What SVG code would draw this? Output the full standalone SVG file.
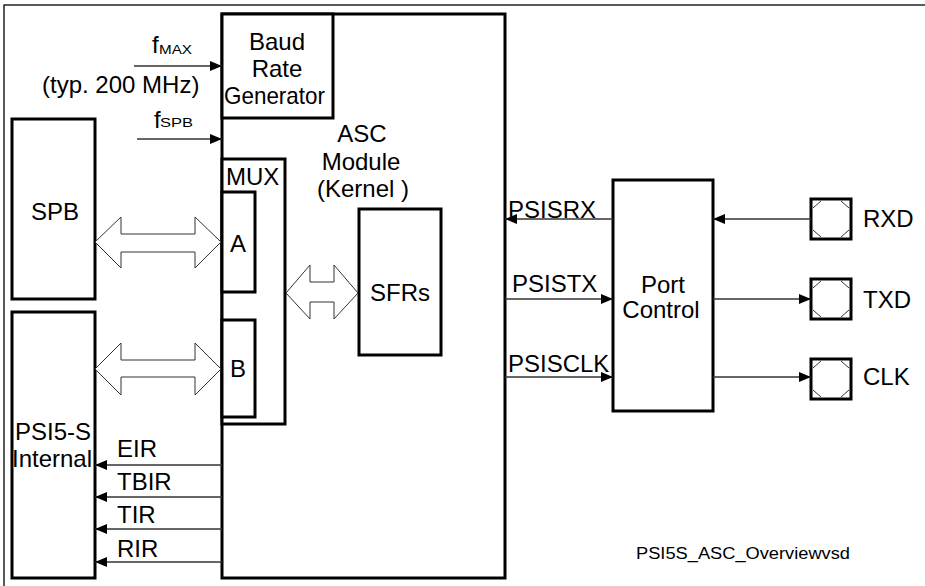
<svg xmlns="http://www.w3.org/2000/svg" width="925" height="586" viewBox="0 0 925 586">
<defs>
<style>
.box{fill:#fff;stroke:#000;stroke-width:3}
.pad{fill:#fff;stroke:#000;stroke-width:3}
.ln{stroke:#333;stroke-width:1.3;fill:none}
.mk{stroke:#333;stroke-width:1;fill:none}
.bus{fill:#fff;stroke:#333;stroke-width:1}
text{font-family:"Liberation Sans",Arial,sans-serif;font-size:24px;fill:#000}
.c{text-anchor:middle}
.sub{font-size:13px}
.foot{font-size:16px}
</style>
<marker id="ah" viewBox="0 0 12 10" refX="12" refY="5" markerWidth="12" markerHeight="10" markerUnits="userSpaceOnUse" orient="auto">
<path d="M0,0 L12,5 L0,10 z" fill="#000"/>
</marker>
</defs>
<rect x="4" y="5" width="930" height="600" fill="none" stroke="#000" stroke-width="1.3"/>

<g id="asc">
<rect class="box" x="222" y="14" width="283" height="564"/>
<text class="c" x="362" y="142">ASC</text>
<text class="c" x="361" y="170">Module</text>
<text class="c" x="363" y="197">(Kernel )</text>
</g>
<g id="baud">
<rect class="box" x="222" y="14" width="111" height="104"/>
<text class="c" x="277" y="50">Baud</text>
<text class="c" x="277" y="77">Rate</text>
<text x="224" y="104" textLength="101" lengthAdjust="spacingAndGlyphs">Generator</text>
</g>
<g id="mux">
<rect class="box" x="222" y="159" width="63" height="265"/>
<text x="226" y="185">MUX</text>
</g>
<g id="muxA">
<rect class="box" x="222" y="192" width="33" height="100"/>
<text class="c" x="238" y="252">A</text>
</g>
<g id="muxB">
<rect class="box" x="222" y="320" width="33" height="97"/>
<text class="c" x="238" y="377">B</text>
</g>
<g id="sfrs">
<rect class="box" x="359" y="209" width="82" height="146"/>
<text class="c" x="400" y="301">SFRs</text>
</g>
<g id="spb">
<rect class="box" x="12" y="119" width="83" height="180"/>
<text class="c" x="55" y="220">SPB</text>
</g>
<g id="psi5s">
<rect class="box" x="12" y="312" width="83" height="266"/>
<text class="c" x="53" y="440">PSI5-S</text>
<text class="c" x="52" y="467">Internal</text>
</g>
<g id="portctrl">
<rect class="box" x="613" y="180" width="100" height="231"/>
<text class="c" x="663" y="293" font-size="22">Port</text>
<text class="c" x="661" y="318" font-size="22">Control</text>
</g>
<g id="rxd">
<rect class="pad" x="811" y="199" width="40" height="40"/>
<path class="mk" d="M813,208 L821,201 M841,201 L849,208 M813,230 L821,237 M841,237 L849,230"/>
<text x="863" y="227">RXD</text>
</g>
<g id="txd">
<rect class="pad" x="811" y="279" width="40" height="40"/>
<path class="mk" d="M813,288 L821,281 M841,281 L849,288 M813,310 L821,317 M841,317 L849,310"/>
<text x="863" y="308">TXD</text>
</g>
<g id="clk">
<rect class="pad" x="811" y="359" width="40" height="40"/>
<path class="mk" d="M813,368 L821,361 M841,361 L849,368 M813,390 L821,397 M841,397 L849,390"/>
<text x="863" y="385">CLK</text>
</g>

<g id="connectors">
<line class="ln" x1="134" y1="66" x2="222" y2="66" marker-end="url(#ah)"/>
<line class="ln" x1="137" y1="139" x2="222" y2="139" marker-end="url(#ah)"/>
<path class="bus" d="M95,242 L121,217 L121,234 L195,234 L195,217 L221,242 L195,268 L195,252 L121,252 L121,268 Z"/>
<path class="bus" d="M95,369 L121,343 L121,360 L195,360 L195,343 L221,369 L195,395 L195,377 L121,377 L121,395 Z"/>
<path class="bus" d="M286,293 L310,265 L310,282 L334,282 L334,265 L358,293 L334,319 L334,302 L310,302 L310,319 Z"/>
<line class="ln" x1="222" y1="465" x2="95" y2="465" marker-end="url(#ah)"/>
<line class="ln" x1="222" y1="497" x2="95" y2="497" marker-end="url(#ah)"/>
<line class="ln" x1="222" y1="529" x2="95" y2="529" marker-end="url(#ah)"/>
<line class="ln" x1="222" y1="562" x2="95" y2="562" marker-end="url(#ah)"/>
<line class="ln" x1="613" y1="219" x2="505" y2="219" marker-end="url(#ah)"/>
<line class="ln" x1="505" y1="299" x2="613" y2="299" marker-end="url(#ah)"/>
<line class="ln" x1="505" y1="377" x2="613" y2="377" marker-end="url(#ah)"/>
<line class="ln" x1="811" y1="219" x2="713" y2="219" marker-end="url(#ah)"/>
<line class="ln" x1="713" y1="299" x2="811" y2="299" marker-end="url(#ah)"/>
<line class="ln" x1="713" y1="377" x2="811" y2="377" marker-end="url(#ah)"/>
</g>

<g id="labels">
<text x="152" y="53">f</text>
<text class="sub" x="159" y="54" textLength="33" lengthAdjust="spacingAndGlyphs">MAX</text>
<text x="42" y="93">(typ. 200 MHz)</text>
<text x="154" y="128">f</text>
<text class="sub" x="160" y="127" textLength="33" lengthAdjust="spacingAndGlyphs">SPB</text>
<text x="117" y="457">EIR</text>
<text x="117" y="490">TBIR</text>
<text x="117" y="523">TIR</text>
<text x="117" y="557">RIR</text>
<text x="508" y="218">PSISRX</text>
<text x="512" y="292">PSISTX</text>
<text x="508" y="372">PSISCLK</text>
<text class="foot" x="636" y="559" textLength="214" lengthAdjust="spacingAndGlyphs">PSI5S_ASC_Overviewvsd</text>
</g>
</svg>
